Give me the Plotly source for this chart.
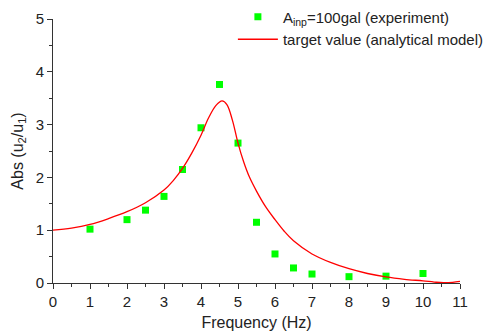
import plotly.graph_objects as go

exp_freq = [1, 2, 2.5, 3, 3.5, 4, 4.5, 5, 5.5, 6, 6.5, 7, 8, 9, 10]
exp_abs = [1.02, 1.20, 1.38, 1.64, 2.15, 2.94, 3.76, 2.65, 1.15, 0.55, 0.285, 0.17, 0.12, 0.13, 0.18]

model_freq = [0, 0.5, 1.0, 1.5, 2.0, 2.5, 3.0, 3.25, 3.5, 3.75, 4.0, 4.2, 4.4, 4.57, 4.7, 4.85, 5.0, 5.15, 5.3, 5.5,
              5.75, 6.0, 6.25, 6.5, 7.0, 7.5, 8.0, 8.5, 9.0, 9.5, 10.0, 10.3, 10.55, 10.8, 11.0]
model_abs = [1.0, 1.04, 1.11, 1.22, 1.35, 1.52, 1.76, 1.94, 2.17, 2.46, 2.80, 3.12, 3.36, 3.45, 3.38, 3.08, 2.65, 2.30, 2.02, 1.74,
             1.44, 1.20, 0.98, 0.80, 0.55, 0.39, 0.27, 0.18, 0.114, 0.07, 0.04, 0.018, 0.005, 0.012, 0.03]

x_ticks = list(range(0, 12))
y_ticks = list(range(0, 6))

FONT = "Liberation Sans, Arial"

fig = go.Figure()
fig.add_trace(go.Scatter(
    x=exp_freq, y=exp_abs, mode="markers",
    marker=dict(symbol="square", size=7, color="#00ff00", line=dict(width=0)),
    name="A<sub>inp</sub>=100gal (experiment)",
))
fig.add_trace(go.Scatter(
    x=model_freq, y=model_abs, mode="lines",
    line=dict(color="#ff0000", width=1.3, shape="spline", smoothing=1.0),
    name="target value (analytical model)",
))

axis_common = dict(
    showgrid=False, zeroline=False, showline=True, linecolor="#333333", linewidth=1,
    ticks="outside", ticklen=5, tickcolor="#333333", automargin=False,
    tickfont=dict(family=FONT, size=15, color="#222222"),
    minor=dict(ticks="outside", ticklen=3, tickcolor="#333333", dtick=0.5),
)
fig.update_xaxes(range=[0, 11], tickvals=x_ticks, title=dict(text="Frequency (Hz)", standoff=14,
                 font=dict(family=FONT, size=16, color="#222222")), **axis_common)
fig.update_yaxes(range=[0, 5], tickvals=y_ticks, title=dict(text="Abs (u<sub>2</sub>/u<sub>1</sub>)", standoff=8,
                 font=dict(family=FONT, size=16, color="#222222")), **axis_common)

# page body has an 8px margin, so the figure is sized/placed to compensate
fig.update_layout(
    width=487, height=323,
    margin=dict(l=45, r=35, t=11, b=48, autoexpand=False),
    plot_bgcolor="white", paper_bgcolor="white",
    showlegend=True,
    legend=dict(x=0.442, y=1.070, xanchor="left", yanchor="top",
                bgcolor="rgba(0,0,0,0)",
                font=dict(family=FONT, size=15, color="#222222"),
                tracegroupgap=0, itemwidth=40),
)
fig.write_html("out.html")
